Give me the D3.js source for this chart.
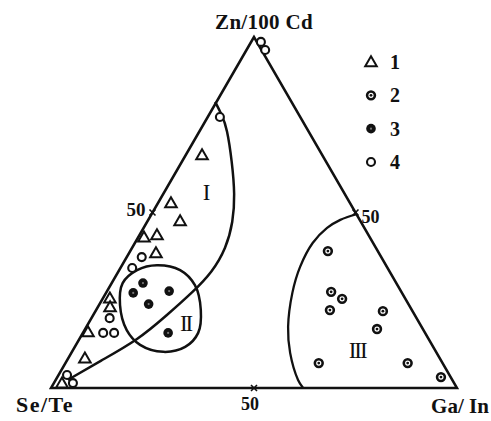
<!DOCTYPE html>
<html><head><meta charset="utf-8">
<script src="https://cdn.jsdelivr.net/npm/d3@7"></script>
<style>body{margin:0;background:#fff}svg{display:block}</style>
</head><body>
<svg id="c" width="491" height="421"></svg>
<script>
// Ternary data: [Zn/100Cd %, Ga/In %]  (Se/Te = 100 - both)
const type1 = [[66.4,4.0],[52.7,3.2],[47.6,8.0],[43.0,1.4],[43.6,4.3],[38.5,6.6],[25.6,1.7],[23.1,3.0],[16.0,1.1],[8.5,4.1],[1.4,2.0]];
const type2 = [[39.0,48.7],[27.4,55.3],[25.4,59.0],[22.2,57.6],[21.9,70.8],[16.8,71.9],[7.1,62.4],[7.1,84.3],[3.1,94.5]];
const type3 = [[29.9,7.7],[27.1,6.7],[27.6,15.3],[23.9,12.1],[15.7,21.0]];
const type4 = [[98.6,2.4],[96.3,4.6],[77.2,3.0],[37.3,3.7],[34.2,2.9],[19.9,4.5],[15.7,5.0],[15.7,7.7],[3.7,2.1],[1.4,4.7]];
const boundaryI = [[81.5,-0.3],[77.8,3.2],[74.1,6.3],[64.4,12.4],[55.0,17.8],[47.3,21.2],[39.9,23.2],[33.0,23.2],[27.4,21.3],[20.8,18.2],[13.7,14.6],[7.7,8.3],[2.3,3.0]];
const boundaryII = [[35.0,8.6],[33.6,15.0],[29.3,20.8],[22.2,25.8],[15.7,28.4],[11.7,27.2],[10.3,22.5],[12.3,15.8],[16.5,10.4],[23.6,5.2],[29.9,2.7],[33.6,4.4]];
const boundaryIII = [[49.5,50.5],[47.9,47.3],[45.6,45.2],[41.3,43.8],[34.5,44.1],[27.1,45.9],[17.4,49.7],[10.0,53.9],[2.3,59.7],[0,62.1]];
const regionLabels = [["I",[55.8,10.2]],["II",[18.5,23.9]],["III",[10.8,70.0]]];
const cornerLabels = ["Zn/100 Cd","Se/Te","Ga/ In"];
const tickValues = [50];
const legendLabels = ["1","2","3","4"];

const svg = d3.select("#c");
const yS = d3.scaleLinear().domain([0,100]).range([388,37]);
const xS = d3.scaleLinear().domain([0,100]).range([51,457]);
const P = d => [xS(d[1] + d[0]/2), yS(d[0])];
const black = "#111";
const serif = "'Liberation Serif','DejaVu Serif',serif";

// frame
const corners = [[100,0],[0,0],[0,100]];
svg.append("path").attr("d", d3.line()(corners.map(P)) + "Z")
  .attr("fill","none").attr("stroke",black).attr("stroke-width",2.5).attr("stroke-linejoin","miter");

// boundaries
svg.append("path").datum(boundaryI.map(P))
  .attr("d", d3.line().curve(d3.curveBasis))
  .attr("fill","none").attr("stroke",black).attr("stroke-width",2.5);
svg.append("path").datum(boundaryII.map(P))
  .attr("d", d3.line().curve(d3.curveCatmullRomClosed.alpha(0.5)))
  .attr("fill","none").attr("stroke",black).attr("stroke-width",2.5);
svg.append("path").datum(boundaryIII.map(P))
  .attr("d", d3.line().curve(d3.curveCatmullRom.alpha(0.5)))
  .attr("fill","none").attr("stroke",black).attr("stroke-width",2.3);

// tick marks and labels (50)
tickValues.forEach(v => {
  const pts = [[v,0],[0,v],[v,100-v]];
  pts.forEach(p => {
    const [x,y] = P(p);
    svg.append("path").attr("d",`M${x-3},${y-3}L${x+3},${y+3}M${x-3},${y+3}L${x+3},${y-3}`)
      .attr("stroke",black).attr("stroke-width",1.6);
  });
  const a = P([v,0]), b = P([0,v]), c = P([v,100-v]);
  svg.append("text").attr("x",a[0]-7).attr("y",a[1]+3).attr("text-anchor","end")
    .attr("font-family",serif).attr("font-size",19).attr("font-weight","bold").attr("fill",black).text(v);
  svg.append("text").attr("x",b[0]-4).attr("y",b[1]+22).attr("text-anchor","middle")
    .attr("font-family",serif).attr("font-size",18).attr("font-weight","bold").attr("fill",black).text(v);
  svg.append("text").attr("x",c[0]+6).attr("y",c[1]+10).attr("text-anchor","start")
    .attr("font-family",serif).attr("font-size",18).attr("font-weight","bold").attr("fill",black).text(v);
});

// corner labels
svg.append("text").attr("x",264).attr("y",29).attr("text-anchor","middle")
  .attr("font-family",serif).attr("font-size",21).attr("font-weight","bold").attr("letter-spacing",0.3).attr("fill",black).text(cornerLabels[0]);
svg.append("text").attr("x",45).attr("y",412).attr("text-anchor","middle")
  .attr("font-family",serif).attr("font-size",22).attr("font-weight","bold").attr("letter-spacing",1.5).attr("fill",black).text(cornerLabels[1]);
svg.append("text").attr("x",460).attr("y",413).attr("text-anchor","middle")
  .attr("font-family",serif).attr("font-size",21).attr("font-weight","bold").attr("fill",black).text(cornerLabels[2]);

// region labels
regionLabels.forEach(([t,p]) => {
  const [x,y] = P(p);
  svg.append("text").attr("x",x).attr("y",y+8).attr("text-anchor","middle")
    .attr("font-family",serif).attr("font-size",23).attr("letter-spacing",-2).attr("fill",black).text(t);
});

// markers
function drawMarker(g, type, x, y) {
  if (type === 1) {
    g.append("path").attr("d", d3.symbol(d3.symbolTriangle, 58)())
      .attr("transform",`translate(${x},${y+1})`)
      .attr("fill","#fff").attr("stroke",black).attr("stroke-width",2);
  } else if (type === 2) {
    g.append("circle").attr("cx",x).attr("cy",y).attr("r",3.9)
      .attr("fill","#fff").attr("stroke",black).attr("stroke-width",2.6);
    g.append("circle").attr("cx",x).attr("cy",y).attr("r",1.4).attr("fill",black);
  } else if (type === 3) {
    g.append("circle").attr("cx",x).attr("cy",y).attr("r",4.8).attr("fill",black);
    g.append("circle").attr("cx",x).attr("cy",y).attr("r",1.1).attr("fill","#777");
  } else {
    g.append("circle").attr("cx",x).attr("cy",y).attr("r",4.0)
      .attr("fill","#fff").attr("stroke",black).attr("stroke-width",2.1);
  }
}
const gm = svg.append("g");
[[type1,1],[type2,2],[type3,3],[type4,4]].forEach(([arr,t]) => {
  arr.forEach(d => { const [x,y] = P(d); drawMarker(gm, t, x, y); });
});

// legend
const lg = svg.append("g");
const ly = d3.scalePoint().domain(legendLabels).range([62,162]);
legendLabels.forEach((l,i) => {
  drawMarker(lg, i+1, 371, ly(l));
  lg.append("text").attr("x",390).attr("y",ly(l)+7).attr("font-family",serif)
    .attr("font-size",20).attr("font-weight","bold").attr("fill",black).text(l);
});
</script>
</body></html>
